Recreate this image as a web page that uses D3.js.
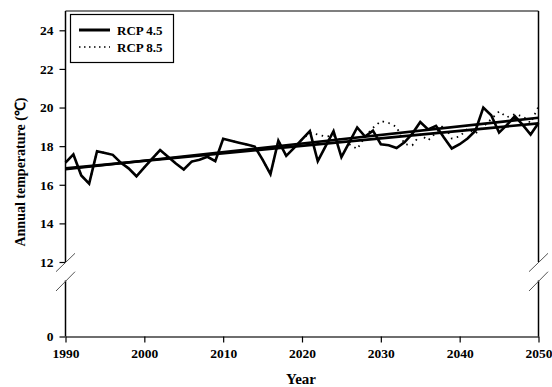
<!DOCTYPE html>
<html><head><meta charset="utf-8">
<script src="https://cdn.jsdelivr.net/npm/d3@7"></script>
<style>
html,body{margin:0;padding:0;background:#fff;}
svg text{font-family:"Liberation Serif","Times New Roman",serif;font-weight:bold;fill:#000;}
</style></head>
<body><svg id="c" width="552" height="387"></svg>
<script>
// ---- data ----
const years = d3.range(1990, 2051);
const rcp45 = [17.15,17.57,16.48,16.06,17.74,17.65,17.55,17.15,16.85,16.44,
  16.9,17.35,17.8,17.45,17.1,16.79,17.2,17.3,17.45,17.22,
  18.38,18.28,18.18,18.08,17.98,17.3,16.55,18.28,17.5,17.91,
  18.35,18.78,17.22,18.0,18.78,17.43,18.2,18.97,18.5,18.8,
  18.1,18.05,17.9,18.2,18.65,19.25,18.87,19.05,18.45,17.88,
  18.1,18.4,18.8,20.0,19.6,18.7,19.1,19.55,19.1,18.6,19.2];
const rcp85 = [17.15,17.57,16.48,16.06,17.74,17.65,17.55,17.15,16.85,16.44,
  16.9,17.35,17.8,17.45,17.1,16.79,17.2,17.3,17.45,17.22,
  18.38,18.28,18.18,18.08,17.98,17.3,16.55,18.28,17.5,17.91,
  18.35,18.7,18.6,18.5,18.55,18.3,18.1,17.85,18.5,18.95,
  19.3,19.2,19.0,18.1,18.05,18.6,18.3,18.7,19.1,18.4,
  18.5,18.9,18.65,19.0,19.4,19.8,19.5,19.65,19.55,19.2,20.05];
const trendYears = [1990, 2050];
const trend45 = [16.85, 19.18];
const trend85 = [16.8, 19.47];
const xTicks = [1990,2000,2010,2020,2030,2040,2050];
const yTicks = [12,14,16,18,20,22,24];
const yLowTicks = [0];
const seriesNames = ["RCP 4.5","RCP 8.5"];

// ---- layout ----
const svg = d3.select("#c");
const L = 65.5, R = 538.5, T = 11, B = 336.5;
const breakTop = 262, breakBot = 280.5;
const x = d3.scaleLinear().domain([1990,2050]).range([L,R]);
const y = d3.scaleLinear().domain([12,25]).range([262,T]);
const yLow = d3.scaleLinear().domain([0,1]).range([B,B-20]);

// x axis
const gx = svg.append("g").attr("transform",`translate(0,${B})`)
  .call(d3.axisBottom(x).tickValues(xTicks).tickFormat(d3.format("d")).tickSize(6).tickSizeOuter(0));
gx.select(".domain").attr("stroke","#6e6e6e").attr("stroke-width",2);
gx.selectAll(".tick line").attr("stroke","#000").attr("stroke-width",1.2);
gx.selectAll(".tick text").attr("font-size",13.5).attr("dy","0.95em")
  .style("font-family","Liberation Serif").style("font-weight","bold");

// y axes (upper and lower segments)
function styleY(g){
  g.select(".domain").remove();
  g.selectAll(".tick line").attr("stroke","#000").attr("stroke-width",1.2);
  g.selectAll(".tick text").attr("font-size",13.5).attr("x",-12)
    .style("font-family","Liberation Serif").style("font-weight","bold");
}
svg.append("g").attr("transform",`translate(${L},0)`)
  .call(d3.axisLeft(y).tickValues(yTicks).tickFormat(d3.format("d")).tickSize(6)).call(styleY);
svg.append("g").attr("transform",`translate(${L},0)`)
  .call(d3.axisLeft(yLow).tickValues(yLowTicks).tickFormat(d3.format("d")).tickSize(6)).call(styleY);

// axis frame lines with break
const frame = svg.append("g").attr("stroke","#000").attr("stroke-width",1.5);
[L,R].forEach(xx=>{
  frame.append("line").attr("x1",xx).attr("x2",xx).attr("y1",T).attr("y2",breakTop);
  frame.append("line").attr("x1",xx).attr("x2",xx).attr("y1",breakBot).attr("y2",B);
});
svg.append("line").attr("x1",L).attr("x2",R).attr("y1",T).attr("y2",T)
  .attr("stroke","#000").attr("stroke-width",1.2);
// break marks
const brk = svg.append("g").attr("stroke","#555").attr("stroke-width",1);
[L,R].forEach(xx=>{
  brk.append("line").attr("x1",xx-9.5).attr("y1",271.7).attr("x2",xx+9.5).attr("y2",253.3);
  brk.append("line").attr("x1",xx-9.5).attr("y1",291).attr("x2",xx+9.5).attr("y2",271.7);
});

// lines
const line = d3.line().x((d,i)=>x(years[i])).y(d=>y(d));
svg.append("path").datum(rcp85).attr("d",line).attr("fill","none")
  .attr("stroke","#000").attr("stroke-width",1.8).attr("stroke-dasharray","1.5,4.5");
svg.append("path").datum(rcp45).attr("d",line).attr("fill","none")
  .attr("stroke","#000").attr("stroke-width",2.6).attr("stroke-linejoin","miter");
const tline = d3.line().x((d,i)=>x(trendYears[i])).y(d=>y(d));
[trend45,trend85].forEach(t=>{
  svg.append("path").datum(t).attr("d",tline).attr("fill","none")
    .attr("stroke","#000").attr("stroke-width",2.6);
});

// legend
const lg = svg.append("g");
lg.append("rect").attr("x",70.5).attr("y",14.5).attr("width",103).attr("height",48)
  .attr("fill","#fff").attr("stroke","#000").attr("stroke-width",1.2);
lg.append("line").attr("x1",79).attr("x2",110).attr("y1",30).attr("y2",30)
  .attr("stroke","#000").attr("stroke-width",3);
lg.append("line").attr("x1",79).attr("x2",110).attr("y1",47).attr("y2",47)
  .attr("stroke","#000").attr("stroke-width",1.6).attr("stroke-dasharray","1.5,3.5");
lg.selectAll("text.lab").data(seriesNames).join("text").attr("class","lab")
  .attr("x",117).attr("y",(d,i)=>35+i*17).attr("font-size",13).text(d=>d);

// titles
svg.append("text").attr("x",301).attr("y",384).attr("text-anchor","middle")
  .attr("font-size",15).text("Year");
svg.append("text").attr("transform","translate(25,172) rotate(-90)")
  .attr("text-anchor","middle").attr("font-size",14).text("Annual temperature (℃)");
</script></body></html>
